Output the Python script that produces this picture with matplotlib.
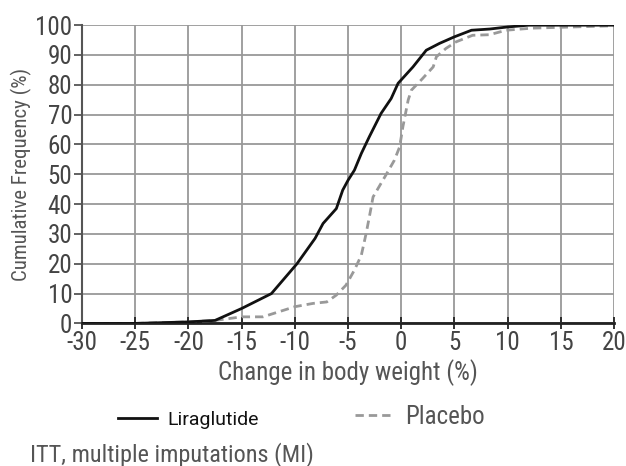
import matplotlib.pyplot as plt

plt.rcParams['font.family'] = ['Roboto Condensed', 'Liberation Sans Narrow', 'DejaVu Sans']
plt.rcParams['font.stretch'] = 'condensed'
plt.rcParams['axes.unicode_minus'] = False

# curve readings
lira_x = [-30, -25, -20, -17.5, -15, -12.2, -9.8, -8.1, -7.35, -6.1, -5.5, -5.0, -4.4,
          -3.75, -3.0, -1.9, -0.95, -0.3, 1.1, 2.35, 3.6, 5.0, 6.6, 8.3, 10, 12, 20]
lira_y = [0, 0, 0.5, 1, 5, 10, 20, 28.5, 33.5, 38.5, 44.7, 48, 51.4,
          57, 62.6, 70.4, 75.4, 80.5, 86, 91.6, 93.9, 96.1, 98.3, 98.7, 99.4, 100, 100]

plac_x = [-30, -25, -20, -17.5, -15, -13, -10, -8.3, -7.0, -6.1, -5.2, -4.4, -3.75,
          -3.3, -3.0, -2.65, -1.55, -0.65, -0.15, 0.15, 0.65, 0.95, 2.0, 3.0, 3.3,
          4.2, 5.15, 6.7, 8.3, 9.85, 12.3, 20]
plac_y = [0, 0, 0.5, 1, 2.2, 2.2, 5.6, 6.7, 7.2, 9.5, 12.8, 17.9, 22.9,
          30.2, 35.7, 42.4, 49.1, 54.7, 59.2, 65.9, 74.9, 78.2, 82.1, 86, 89.4,
          92.2, 94.4, 96.6, 96.8, 98.3, 99, 99.8]

xticks = list(range(-30, 21, 5))
yticks = list(range(0, 101, 10))

fig = plt.figure(figsize=(6.26, 4.66), dpi=100)
ax = fig.add_axes([0.131, 0.306, 0.850, 0.640])

pl, = ax.plot(plac_x, plac_y, color='#999999', lw=2.0, ls=(0, (3.0, 1.8)), label='Placebo', zorder=3)
li, = ax.plot(lira_x, lira_y, color='#111111', lw=2.0, label='Liraglutide', zorder=4)

ax.set_xlim(-30, 20)
ax.set_ylim(0, 100)
ax.set_xticks(xticks)
ax.set_yticks(yticks)
ax.grid(True, color='#999999', lw=1.3)
ax.set_axisbelow(True)
for s in ['top', 'right']:
    ax.spines[s].set_visible(False)
ax.spines['left'].set_color('#555555')
ax.spines['left'].set_linewidth(1.5)
ax.spines['bottom'].set_color('#222222')
ax.spines['bottom'].set_linewidth(2)
ax.tick_params(axis='y', direction='out', length=6, width=1.3, color='#555555',
               labelsize=18, labelcolor='#444444', pad=1)
ax.tick_params(axis='x', direction='inout', length=8, width=1.3, color='#222222',
               labelsize=18, labelcolor='#444444', pad=1.5)
ax.set_xlabel('Change in body weight (%)', fontsize=18, color='#555555', labelpad=3)
ax.set_ylabel('Cumulative Frequency (%)', fontsize=15, color='#555555', labelpad=2)

fig.legend(handles=[li], loc='center left', bbox_to_anchor=(118 / 626, 1 - 420 / 466),
           frameon=False, handlelength=2.0, handletextpad=0.55,
           borderpad=0, borderaxespad=0, labelcolor='#111111',
           prop={'family': ['Roboto', 'DejaVu Sans'], 'size': 14, 'stretch': 'normal'})
fig.legend(handles=[pl], loc='center left', bbox_to_anchor=(355 / 626, 1 - 417 / 466),
           frameon=False, handlelength=1.6, handletextpad=0.4,
           borderpad=0, borderaxespad=0, labelcolor='#555555',
           prop={'size': 18})
fig.text(30 / 626, 1 - 455 / 466, 'ITT, multiple imputations (MI)', fontsize=17.5,
         color='#555555', va='center')

fig.savefig('out.png', dpi=100)
